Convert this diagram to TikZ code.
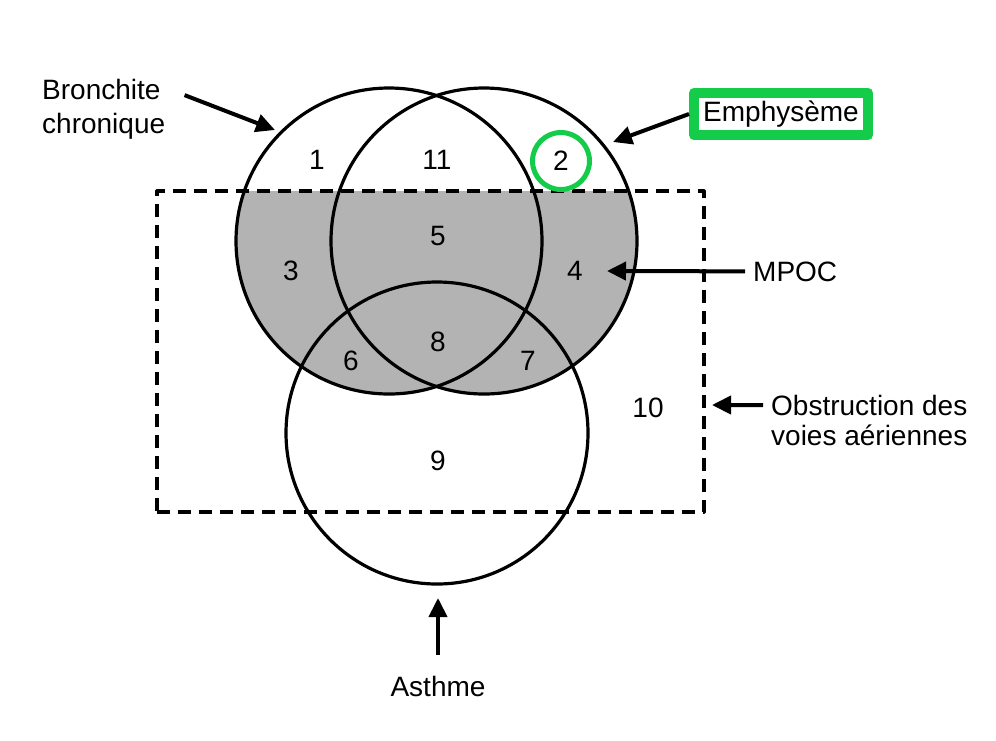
\documentclass[tikz,border=0pt]{standalone}
\usepackage{fontspec}
\setmainfont{Liberation Sans}
\usetikzlibrary{arrows.meta,positioning}
\definecolor{venngray}{HTML}{B3B3B3}
\definecolor{highlight}{HTML}{14CC4A}
\tikzset{
  every picture/.style={line join=round},
  setcircle/.style={draw, circle, line width=3.2pt, minimum size=306pt, inner sep=0pt},
  num/.style={inner sep=0pt},
  lbl/.style={inner sep=8pt},
  pointer/.style={line width=4pt, -{Triangle[length=19pt,width=18pt]}},
}
\begin{document}
\begin{tikzpicture}[x=1pt,y=-1pt,font=\fontsize{28pt}{34pt}\selectfont]
\useasboundingbox (0,0) rectangle (996,740);
% grey part: MPOC = (bronchite or emphyseme) with obstruction
\begin{scope}
  \clip (157,191) rectangle (704,512);
  \fill[venngray] (389,241) circle (153pt) (484,241) circle (153pt);
\end{scope}

\node[setcircle] (bc) at (389,241) {};
\node[setcircle] (em) at (484,241) {};
\node[setcircle, minimum size=302pt] (as) at (437,433) {};
\node[draw, line width=3.2pt, dash pattern=on 13pt off 8pt,
      minimum width=547pt, minimum height=321pt] (obs) at (430.5,351.5) {};

% region numbers
\node[num] (n1) at (317,160) {1};
\node[num] (n11) at (437,160) {11};
\node[num, draw=highlight, circle, line width=5pt, minimum size=57pt] (n2) at (561,161) {2};
\node[num] (n3) at (291,271) {3};
\node[num] (n4) at (575,271) {4};
\node[num] (n5) at (438,236) {5};
\node[num] (n6) at (351,361) {6};
\node[num] (n7) at (528,361) {7};
\node[num] (n8) at (438,342) {8};
\node[num] (n9) at (438,461) {9};
\node[num] (n10) at (648,408) {10};

% labels
\node[lbl, anchor=base west] (bct1) at (34,99) {Bronchite};
\node[lbl, anchor=base west] (bct2) at ([yshift=-34pt]bct1.base west) {chronique};
\node[lbl, draw=highlight, line width=10pt, minimum width=174pt, minimum height=42pt] (emt) at (781,114) {Emphysème};
\node[lbl, anchor=base west] (mpoc) at (745,281) {MPOC};
\node[lbl, anchor=base west] (obt1) at (763,415) {Obstruction des};
\node[lbl, anchor=base west] (obt2) at ([yshift=-30pt]obt1.base west) {voies aériennes};
\node[lbl, anchor=base] (ast) at (438,696) {Asthme};

\coordinate (bctip) at (275,130);
\coordinate (emtip) at (613,142);
\coordinate (mpoctip) at (607,271);
\coordinate (obtip) at (712,405);
\coordinate (astip) at (438,598);

\draw[pointer, shorten <=17pt] (bct1.east) -- (bctip);
\draw[pointer] (emt.west) -- (emtip);
\draw[pointer] (mpoc.west) -- (mpoctip);
\draw[pointer] (obt1.west) -- (obtip);
\draw[pointer, shorten <=13pt] (ast.north) -- (astip);
\end{tikzpicture}
\end{document}
